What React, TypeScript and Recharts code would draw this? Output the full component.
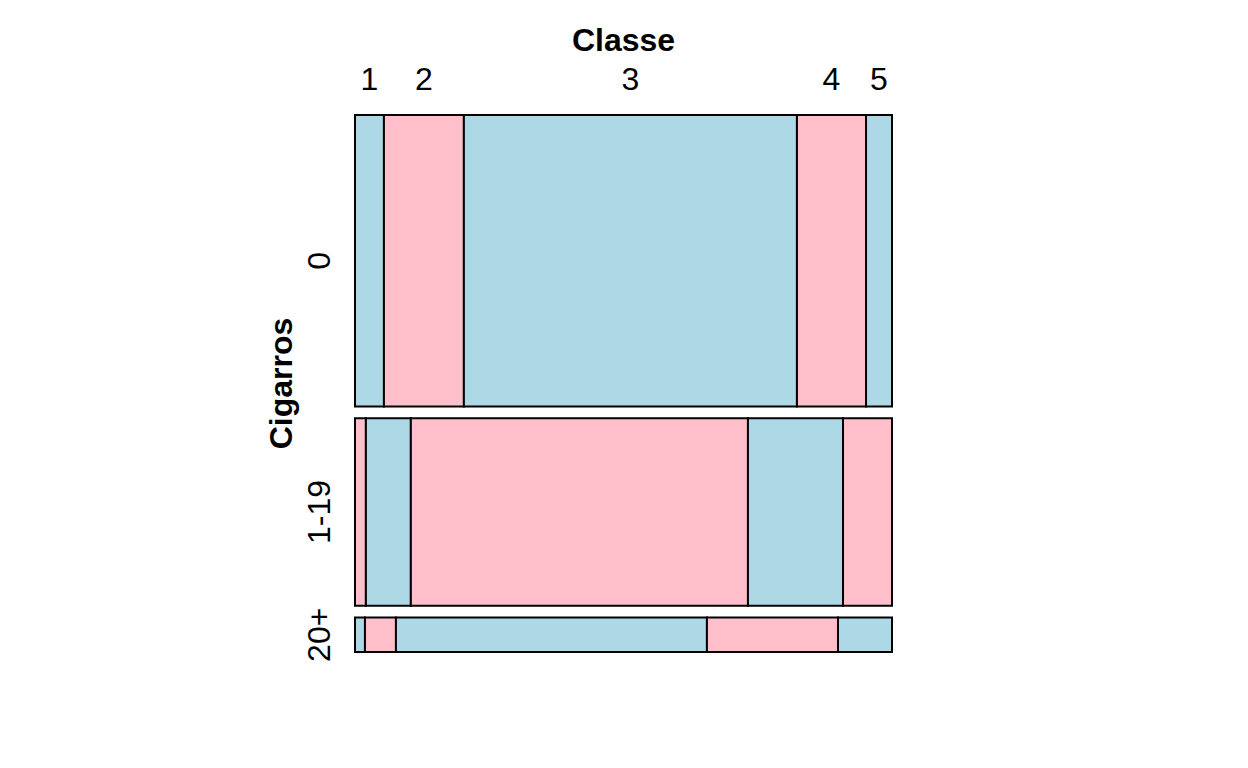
import React from 'react';
import { ComposedChart, XAxis, YAxis, ReferenceArea } from 'recharts';

// ---- data ----
const classes = ['1', '2', '3', '4', '5'];
const cigarros = ['0', '1-19', '20+'];
const countsNone = [15.7, 43.4, 180.8, 37.5, 14.1];
const countsLight = [3.8, 15.7, 117.7, 33.2, 17.1];
const countsHeavy = [0.64, 1.99, 19.98, 8.42, 3.47];
const rowCounts = [countsNone, countsLight, countsHeavy];

// ---- style / layout constants ----
const BLUE = '#ADD8E6';
const PINK = '#FFC0CB';
const FONT = '"Liberation Sans", Arial, Helvetica, sans-serif';
const GAP_FRAC = 0.0229;
const TICK_SIZE = 32;
const TITLE_SIZE = 32;

const sum = (a: number[]) => a.reduce((s, v) => s + v, 0);
const rowTotals = rowCounts.map(sum);
const grand = sum(rowTotals);
const gap = grand * GAP_FRAC;
const yMax = grand + gap * (rowCounts.length - 1);

type Cell = { x1: number; x2: number; y1: number; y2: number; fill: string; key: string };
const cells: Cell[] = [];
const rowCenters: number[] = [];
let yCum = 0;
rowCounts.forEach((row, i) => {
  const tot = rowTotals[i];
  let xCum = 0;
  row.forEach((v, j) => {
    cells.push({
      x1: xCum / tot,
      x2: (xCum + v) / tot,
      y1: yCum,
      y2: yCum + tot,
      fill: (i + j) % 2 === 0 ? BLUE : PINK,
      key: `${i}-${j}`,
    });
    xCum += v;
  });
  rowCenters.push(yCum + tot / 2);
  yCum += tot + gap;
});

const colCenters: number[] = [];
{
  const tot = rowTotals[0];
  let xCum = 0;
  rowCounts[0].forEach((v) => {
    colCenters.push((xCum + v / 2) / tot);
    xCum += v;
  });
}

const chartData = cigarros.map((c, i) => ({ name: c, center: rowCenters[i] }));

const ColTick = (props: any) => {
  const { x, payload } = props;
  const idx = colCenters.indexOf(payload.value);
  return (
    <text x={x} y={90} textAnchor="middle" fontFamily={FONT} fontSize={TICK_SIZE} fill="#000">
      {classes[idx]}
    </text>
  );
};

const RowTick = (props: any) => {
  const { y, payload } = props;
  const idx = rowCenters.indexOf(payload.value);
  return (
    <text
      transform={`translate(330, ${y}) rotate(-90)`}
      textAnchor="middle"
      fontFamily={FONT}
      fontSize={TICK_SIZE}
      fill="#000"
    >
      {cigarros[idx]}
    </text>
  );
};

export default function App() {
  return (
    <div style={{ position: 'absolute', left: 0, top: 0, width: 1248, height: 768, background: '#fff' }}>
      <ComposedChart
        width={1248}
        height={768}
        data={chartData}
        margin={{ top: 0, left: 0, right: 356, bottom: 116 }}
      >
        <XAxis
          type="number"
          dataKey="center"
          domain={[0, 1]}
          orientation="top"
          height={115}
          ticks={colCenters}
          interval={0}
          axisLine={false}
          tickLine={false}
          tick={<ColTick />}
          allowDataOverflow
        />
        <YAxis
          type="number"
          domain={[0, yMax]}
          reversed
          width={355}
          ticks={rowCenters}
          interval={0}
          axisLine={false}
          tickLine={false}
          tick={<RowTick />}
          allowDataOverflow
        />
        {cells.map((c) => (
          <ReferenceArea
            key={c.key}
            x1={c.x1}
            x2={c.x2}
            y1={c.y1}
            y2={c.y2}
            fill={c.fill}
            fillOpacity={1}
            stroke="#000"
            strokeWidth={2}
            ifOverflow="visible"
          />
        ))}
        <text x={623.5} y={51} textAnchor="middle" fontFamily={FONT} fontSize={TITLE_SIZE} fontWeight="bold" fill="#000">
          Classe
        </text>
        <text
          transform={`translate(292, 383.5) rotate(-90)`}
          textAnchor="middle"
          fontFamily={FONT}
          fontSize={TITLE_SIZE}
          fontWeight="bold"
          fill="#000"
        >
          Cigarros
        </text>
      </ComposedChart>
    </div>
  );
}
